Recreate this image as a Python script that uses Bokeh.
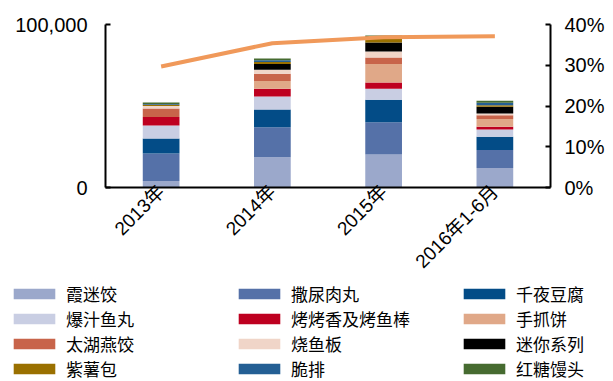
import math
from bokeh.plotting import figure
from bokeh.layouts import column, row
from bokeh.models import (FactorRange, Range1d, LinearAxis, FixedTicker,
                          NumeralTickFormatter, Legend, LegendItem, ColumnDataSource)
from bokeh.embed import file_html
from bokeh.resources import INLINE

years = ["2013年", "2014年", "2015年", "2016年1-6月"]
products = ["霞迷饺", "撒尿肉丸", "千夜豆腐", "爆汁鱼丸", "烤烤香及烤鱼棒", "手抓饼",
            "太湖燕饺", "烧鱼板", "迷你系列", "紫薯包", "脆排", "红糖馒头"]

xiamijiao = [4000, 18600, 20200, 12000]
saniaorouwan = [16800, 18400, 19800, 11000]
qianyedoufu = [9200, 10800, 13800, 8200]
baozhiyuwan = [8000, 8000, 6800, 4400]
kaokaoxiang = [5200, 4800, 3800, 1600]
shouzhuabing = [0, 4800, 11400, 4800]
taihuyanjiao = [5200, 4400, 4000, 2400]
shaoyuban = [1600, 2400, 3600, 1000]
minixilie = [0, 3600, 5600, 4200]
zishubao = [800, 1200, 2400, 800]
cuipai = [500, 1000, 900, 1600]
hongtangmantou = [800, 1200, 900, 1200]

share_pct = [0.297, 0.354, 0.369, 0.371]

series = [xiamijiao, saniaorouwan, qianyedoufu, baozhiyuwan, kaokaoxiang, shouzhuabing,
          taihuyanjiao, shaoyuban, minixilie, zishubao, cuipai, hongtangmantou]
colors = ["#9BA8CB", "#5571A8", "#034C87", "#C9CEE3", "#BE0020", "#E0A888",
          "#C8644A", "#F0D5C8", "#000000", "#9A7000", "#245F94", "#466B30"]

data = {"year": years}
keys = []
for i, s in enumerate(series):
    k = "s%d" % i
    keys.append(k)
    data[k] = s
source = ColumnDataSource(data)

LABEL_FONT = "'Liberation Sans', 'Noto Sans CJK SC'"

p = figure(x_range=FactorRange(*years, range_padding=0), y_range=Range1d(0, 100000),
           width=613, height=282,
           min_border_left=105, min_border_right=63, min_border_top=24, min_border_bottom=0,
           output_backend="svg", toolbar_location=None)
p.outline_line_color = None
p.xgrid.grid_line_color = None
p.ygrid.grid_line_color = None
p.background_fill_color = "white"
p.border_fill_color = "white"

renderers = p.vbar_stack(keys, x="year", width=0.33, color=colors, source=source, line_width=0)

p.extra_y_ranges = {"pct": Range1d(0, 0.4)}
p.line(x=years, y=share_pct, y_range_name="pct", line_color="#F0995A", line_width=4)

# left axis
ya = p.yaxis[0]
ya.ticker = FixedTicker(ticks=[0, 100000])
ya.formatter = NumeralTickFormatter(format="0,0")
ya.major_tick_in = 5
ya.major_tick_out = 0
ya.minor_tick_in = 0
ya.minor_tick_out = 0
ya.axis_line_width = 2
ya.major_tick_line_width = 2
ya.major_label_standoff = 18
ya.major_label_text_font = LABEL_FONT
ya.major_label_text_font_size = "20px"
ya.major_label_text_color = "black"

# right axis
ra = LinearAxis(y_range_name="pct", ticker=FixedTicker(ticks=[0, 0.1, 0.2, 0.3, 0.4]),
                formatter=NumeralTickFormatter(format="0%"))
ra.major_tick_in = 5
ra.major_tick_out = 0
ra.minor_tick_in = 0
ra.minor_tick_out = 0
ra.axis_line_width = 2
ra.major_tick_line_width = 2
ra.major_label_standoff = 14
ra.major_label_text_font = LABEL_FONT
ra.major_label_text_font_size = "20px"
ra.major_label_text_color = "black"
p.add_layout(ra, "right")

# bottom axis
xa = p.xaxis[0]
xa.major_label_orientation = math.pi / 4
xa.major_tick_in = 0
xa.major_tick_out = 0
xa.axis_line_width = 2
xa.major_label_standoff = 1
xa.major_label_text_font = LABEL_FONT
xa.major_label_text_font_size = "19px"
xa.major_label_text_color = "black"

# legend panel
lg = figure(width=613, height=99, x_range=Range1d(0, 1), y_range=Range1d(0, 1),
            min_border_left=0, min_border_right=0, min_border_top=0, min_border_bottom=0,
            x_axis_location=None, y_axis_location=None,
            output_backend="svg", toolbar_location=None)
lg.outline_line_color = None
lg.xgrid.grid_line_color = None
lg.ygrid.grid_line_color = None
lg.border_fill_color = "white"
legend_renderers = [lg.vbar(x=[-10], top=[0], width=0.1, fill_color=c, line_color=None)
                    for c in colors]
items = [LegendItem(label=name, renderers=[r]) for name, r in zip(products, legend_renderers)]
legend = Legend(items=items, orientation="horizontal", ncols=3,
                glyph_width=52, glyph_height=13, label_standoff=6, label_width=167,
                spacing=-4, label_height=17,
                label_text_font="'Noto Sans CJK SC'", label_text_font_size="17px",
                label_text_color="black",
                padding=0, margin=0, border_line_color=None, background_fill_alpha=0,
                location=(8, 0))
lg.add_layout(legend, "center")

try:
    p.frame_align = False
    lg.frame_align = False
    layout = column(p, lg, spacing=0)
except AttributeError:
    layout = column(p, row(lg), spacing=0)

open("out.html", "w").write(file_html(layout, INLINE))
